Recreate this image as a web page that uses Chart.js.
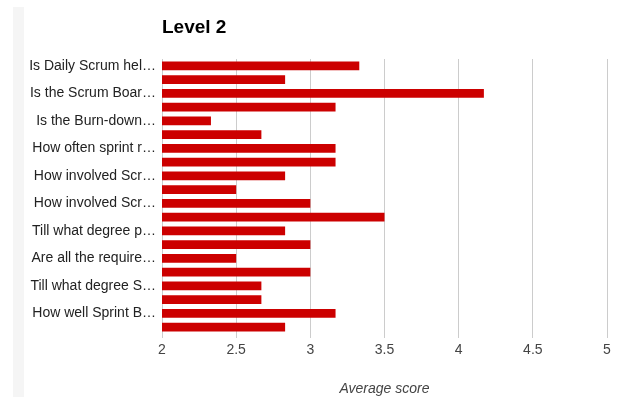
<!DOCTYPE html>
<html>
<head>
<meta charset="utf-8">
<script src="https://cdn.jsdelivr.net/npm/chart.js@4"></script>
<style>
  html, body { margin: 0; padding: 0; background: #fff; }
  #wrap { position: relative; width: 619px; height: 397px; }
  #strip { position: absolute; left: 13px; top: 7px; width: 11px; height: 390px; background: #f5f5f5; }
  #title { position: absolute; left: 162px; top: 16px; font: bold 19px "Liberation Sans", Arial, sans-serif; color: #000; }
  canvas { position: absolute; left: 0; top: 0; }
</style>
</head>
<body>
<div id="wrap">
  <div id="strip"></div>
  <canvas id="chart" width="619" height="397"></canvas>
  <div id="title">Level 2</div>
</div>
<script>
// one label shown for every second bar, the others are hidden by the axis
const tickLabels = [
  'Is Daily Scrum hel…',
  'Is the Scrum Boar…',
  'Is the Burn-down…',
  'How often sprint r…',
  'How involved Scr…',
  'How involved Scr…',
  'Till what degree p…',
  'Are all the require…',
  'Till what degree S…',
  'How well Sprint B…'
];
const categories = [];
tickLabels.forEach(label => { categories.push(label); categories.push(''); });

const scores = [
  3.33, 2.83, 4.17, 3.17, 2.33, 2.67, 3.17, 3.17, 2.83, 2.5,
  3.0, 3.5, 2.83, 3.0, 2.5, 3.0, 2.67, 2.67, 3.17, 2.83
];
const xTicks = [2, 2.5, 3, 3.5, 4, 4.5, 5];

const font = { family: '"Liberation Sans", Arial', size: 14 };

const ctx = document.getElementById('chart').getContext('2d');
new Chart(ctx, {
  type: 'bar',
  data: {
    labels: categories,
    datasets: [{
      label: 'Average score',
      data: scores,
      backgroundColor: '#cc0000',
      borderWidth: 0,
      barPercentage: 0.62,
      categoryPercentage: 1
    }]
  },
  options: {
    indexAxis: 'y',
    responsive: false,
    animation: false,
    layout: { padding: { top: 59, right: 12, left: 0, bottom: 0 } },
    plugins: { legend: { display: false }, tooltip: { enabled: false } },
    scales: {
      x: {
        min: xTicks[0],
        max: xTicks[xTicks.length - 1],
        afterBuildTicks: scale => { scale.ticks = xTicks.map(v => ({ value: v })); },
        afterFit: scale => { scale.height = 63; },
        grid: { color: '#cccccc', drawTicks: true, tickLength: 4 },
        border: { display: false },
        ticks: {
          color: '#444',
          padding: 4,
          font: font,
          callback: v => String(v)
        },
        title: {
          display: true,
          text: 'Average score',
          color: '#444',
          padding: { top: 0, bottom: -1 },
          font: { family: font.family, size: 14, style: 'italic' }
        }
      },
      y: {
        afterFit: scale => { scale.width = 162; },
        grid: { display: false },
        border: { display: false },
        ticks: {
          autoSkip: false,
          color: '#222',
          padding: -2,
          font: font
        }
      }
    }
  }
});
</script>
</body>
</html>
